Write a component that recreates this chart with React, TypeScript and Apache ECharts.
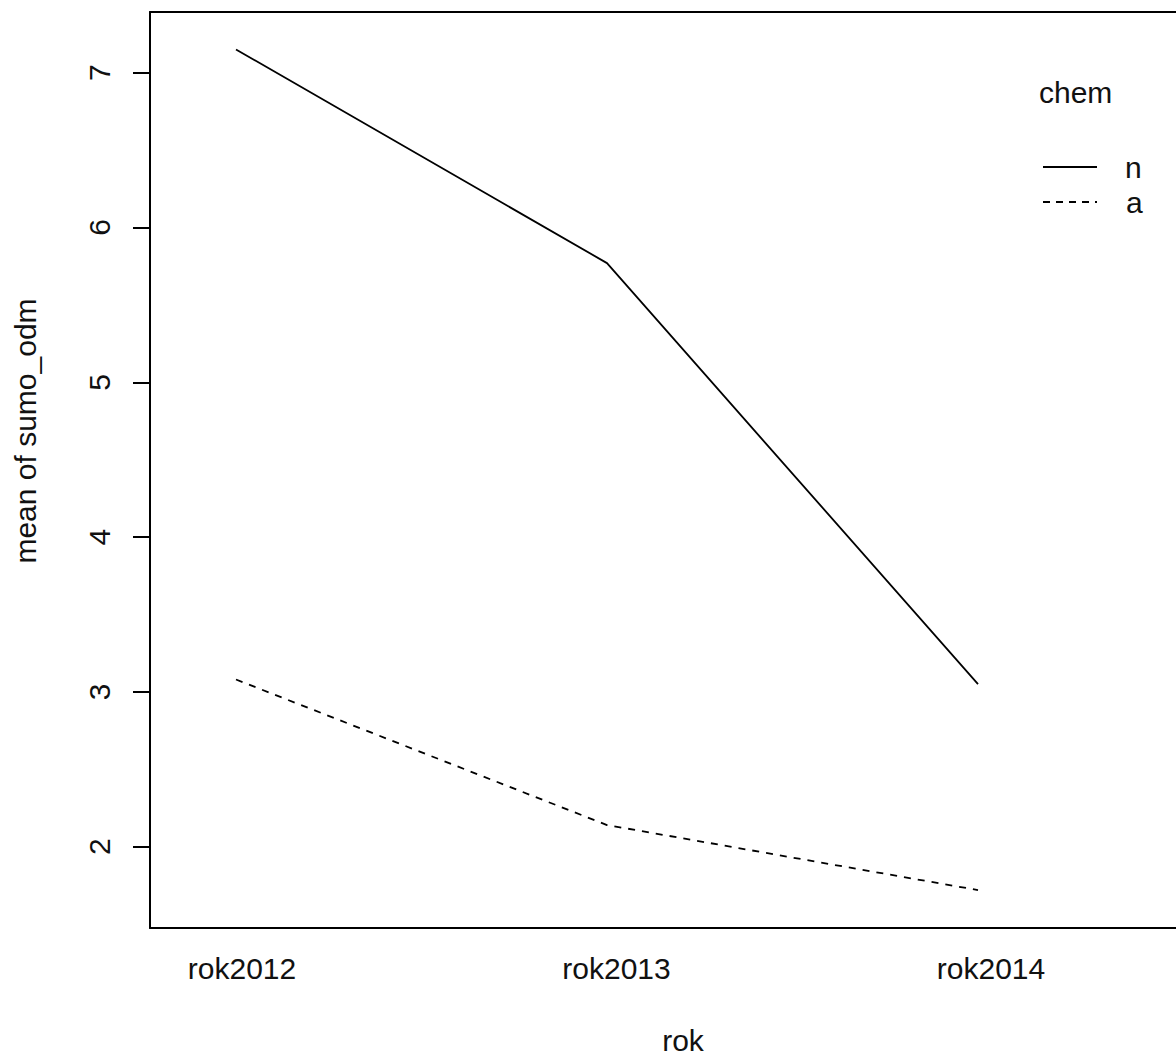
import React, { useEffect, useRef } from "react";
import * as echarts from "echarts";

const categories = ["rok2012", "rok2013", "rok2014"];
const xPositions = [1, 2, 3];
const seriesNames = ["n", "a"];
const valuesN = [7.15, 5.77, 3.05];
const valuesA = [3.08, 2.14, 1.72];
const yTicks = [2, 3, 4, 5, 6, 7];
const legendTitle = "chem";
const xTitle = "rok";
const yTitle = "mean of sumo_odm";

const FONT = "'Liberation Sans', Arial, sans-serif";
const FS = 30;

export default function App() {
  const ref = useRef<HTMLDivElement>(null);
  useEffect(() => {
    document.body.style.margin = "0";
    const chart = echarts.init(ref.current!, null, { renderer: "svg" });
    const lineDataN = xPositions.map((x, i) => [x, valuesN[i]]);
    const lineDataA = xPositions.map((x, i) => [x, valuesA[i]]);
    chart.setOption({
      animation: false,
      backgroundColor: "#ffffff",
      grid: {
        left: 150,
        right: 0,
        top: 12,
        bottom: 129,
        show: false,
        containLabel: false,
        outerBoundsMode: "none",
      },
      xAxis: [
        {
          type: "value",
          min: 0.7682,
          max: 3.5337,
          position: "bottom",
          axisLine: { show: true, onZero: false, lineStyle: { color: "#000", width: 2 } },
          axisTick: { show: false },
          axisLabel: { show: false },
          splitLine: { show: false },
        },
        {
          type: "value",
          min: 0.7543,
          max: 3.494,
          position: "bottom",
          axisLine: { show: false },
          axisTick: { show: false },
          splitLine: { show: false },
          axisLabel: {
            customValues: xPositions,
            formatter: (v: number) => categories[Math.round(v) - 1] ?? "",
            color: "#111",
            fontFamily: FONT,
            fontSize: FS,
            margin: 25,
          },
          name: xTitle,
          nameLocation: "middle",
          nameGap: 100,
          nameTextStyle: {
            color: "#111",
            fontFamily: FONT,
            fontSize: FS,
            lineHeight: 24,
            padding: [0, 0, 0, 40],
          },
        },
        {
          type: "value",
          min: 0.7682,
          max: 3.5337,
          position: "top",
          axisLine: { show: true, onZero: false, lineStyle: { color: "#000", width: 2 } },
          axisTick: { show: false },
          axisLabel: { show: false },
          splitLine: { show: false },
        },
      ],
      yAxis: {
        type: "value",
        min: 1.475,
        max: 7.392,
        axisLine: { show: true, onZero: false, lineStyle: { color: "#000", width: 2 } },
        splitLine: { show: false },
        axisTick: {
          show: true,
          customValues: yTicks,
          length: 17,
          lineStyle: { color: "#000", width: 2 },
        },
        axisLabel: {
          customValues: yTicks,
          rotate: 90,
          color: "#111",
          fontFamily: FONT,
          fontSize: FS,
          margin: 36,
        },
        name: yTitle,
        nameLocation: "middle",
        nameRotate: 90,
        nameGap: 110,
        nameTextStyle: {
          color: "#111",
          fontFamily: FONT,
          fontSize: FS,
          padding: [0, 0, 0, 78],
        },
      },
      series: [
        {
          name: seriesNames[0],
          type: "line",
          xAxisIndex: 0,
          data: lineDataN,
          symbol: "none",
          lineStyle: { color: "#000", width: 1.8, type: "solid" },
        },
        {
          name: seriesNames[1],
          type: "line",
          xAxisIndex: 0,
          data: lineDataA,
          symbol: "none",
          lineStyle: { color: "#000", width: 1.8, type: [7, 7] },
        },
      ],
      graphic: [
        {
          type: "text",
          x: 1039,
          y: 92,
          style: {
            text: legendTitle,
            fill: "#111",
            font: `${FS}px ${FONT}`,
            verticalAlign: "middle",
          },
        },
        {
          type: "line",
          shape: { x1: 1043, y1: 167, x2: 1097, y2: 167 },
          style: { stroke: "#000", lineWidth: 2 },
        },
        {
          type: "line",
          shape: { x1: 1043, y1: 202, x2: 1097, y2: 202 },
          style: { stroke: "#000", lineWidth: 2, lineDash: [7, 6] },
        },
        {
          type: "text",
          x: 1125,
          y: 167,
          style: {
            text: seriesNames[0],
            fill: "#111",
            font: `${FS}px ${FONT}`,
            verticalAlign: "middle",
          },
        },
        {
          type: "text",
          x: 1126,
          y: 202,
          style: {
            text: seriesNames[1],
            fill: "#111",
            font: `${FS}px ${FONT}`,
            verticalAlign: "middle",
          },
        },
      ],
    });
    return () => chart.dispose();
  }, []);
  return (
    <div
      ref={ref}
      style={{ position: "absolute", left: 0, top: 0, width: 1176, height: 1057 }}
    />
  );
}
